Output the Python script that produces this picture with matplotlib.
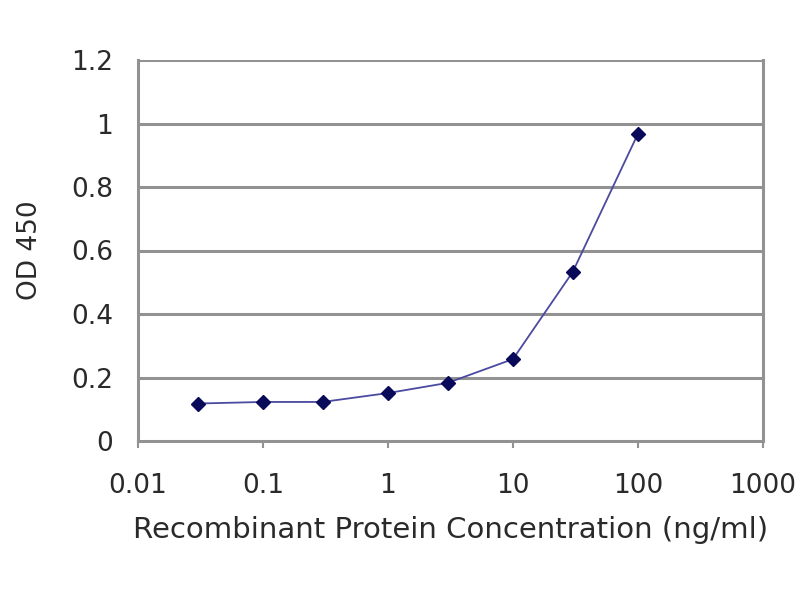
import matplotlib
matplotlib.use("Agg")
from matplotlib import pyplot as plt

# values
conc = [0.03, 0.1, 0.3, 1, 3, 10, 30, 100]
od450 = [0.118, 0.123, 0.123, 0.151, 0.183, 0.258, 0.532, 0.968]
xticks = [0.01, 0.1, 1, 10, 100, 1000]
xticklabels = ["0.01", "0.1", "1", "10", "100", "1000"]
yticks = [0, 0.2, 0.4, 0.6, 0.8, 1, 1.2]
yticklabels = ["0", "0.2", "0.4", "0.6", "0.8", "1", "1.2"]

plt.rcParams['font.family'] = ['DejaVu Sans']

fig = plt.figure(figsize=(8, 6), dpi=100)
ax = fig.add_axes([0.1725, 0.265, 0.78125, 0.635])

ax.set_xscale("log")
ax.set_xlim(0.01, 1000)
ax.set_ylim(0, 1.2)

for y in yticks[1:]:
    ax.axhline(y, color="#929292", lw=2.2, zorder=1)

ax.plot(conc, od450, color="#4a4aa0", lw=1.3, zorder=2)
ax.plot(conc, od450, ls="none", marker="D", ms=7, color="#0a0a5a", zorder=3)

ax.set_xticks(xticks)
ax.set_xticklabels(xticklabels)
ax.minorticks_off()
ax.set_yticks(yticks)
ax.set_yticklabels(yticklabels)

for s in ["left", "bottom", "right"]:
    ax.spines[s].set_color("#929292")
    ax.spines[s].set_linewidth(2.2)
ax.spines["top"].set_visible(False)

txt = "#2a2a2a"
ax.tick_params(axis="x", direction="out", length=5, width=1.5, color="#929292",
               labelsize=19, labelcolor=txt, pad=18)
ax.tick_params(axis="y", length=0, labelsize=19, labelcolor=txt, pad=18)

ax.set_xlabel("Recombinant Protein Concentration (ng/ml)", fontsize=21,
              color=txt, labelpad=12)
ax.set_ylabel("OD 450", fontsize=19, color=txt, labelpad=20)

fig.savefig("out.png", dpi=100, facecolor="white")
